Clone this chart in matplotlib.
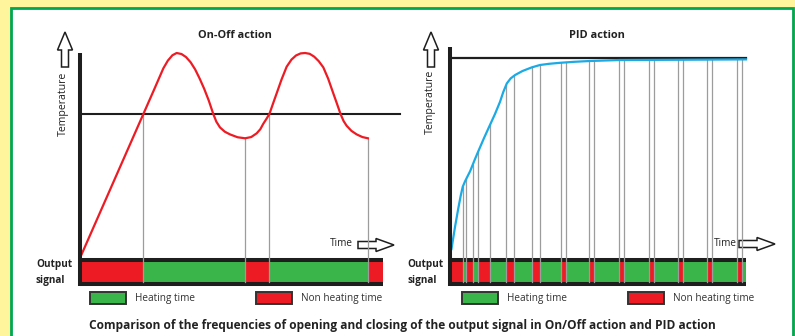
import matplotlib.pyplot as plt
from matplotlib.patches import Rectangle, Polygon
import numpy as np

plt.rcParams['font.family'] = ['Open Sans', 'DejaVu Sans']

W, H = 795, 336

# On-Off action: time 0-100 spans the output bar, temperature 100 = top of overshoot
onoff_time = [0, 20.9, 24.5, 27.5, 29.0, 30.5, 31.9, 33.5, 35.0, 36.5, 38.0, 39.5,
              41.0, 42.5, 44.0, 45.0, 46.2, 47.8, 49.5, 52.0, 54.5, 56.5, 58.3,
              59.5, 60.5, 61.5, 62.5, 63.7, 64.9, 66.5, 68.2, 69.8, 71.3, 72.8,
              74.3, 75.8, 77.3, 78.8, 80.3, 81.9, 83.6, 84.8, 86.0, 87.0, 88.0,
              89.6, 91.3, 93.2, 95.0]
onoff_temp = [0, 70.2, 82.3, 92.5, 96.3, 98.9, 100, 99.5, 98.0, 95.5, 92.0, 87.5,
              82.5, 76.8, 70.2, 66.5, 63.7, 61.6, 60.3, 58.9, 58.4, 59.0, 60.8,
              62.8, 65.5, 67.8, 70.2, 75.3, 80.3, 87.0, 93.3, 96.8, 98.8, 99.8,
              100, 99.6, 98.2, 96.0, 93.0, 87.5, 80.3, 75.3, 70.2, 66.8, 64.5,
              62.0, 60.3, 59.0, 58.4]
onoff_setpoint = 70.2
onoff_off_start = [0, 54.5, 95.0]
onoff_off_end = [20.9, 62.5, 100]

# PID action: temperature 100 = setpoint
pid_time = [0.5, 1.7, 2.8, 3.6, 4.3, 5.1, 6.8, 8.4, 9.4, 11.5, 13.5, 15.2, 16.9,
            18.0, 19.2, 20.5, 22.0, 24.5, 27.6, 30.4, 33.5, 37.2, 42.0, 47.3,
            57.4, 75.3, 100]
pid_temp = [4.5, 15.6, 24.8, 31.0, 35.6, 38.4, 43.4, 49.3, 52.8, 60.0, 66.5, 72.0,
            78.1, 83.0, 87.3, 89.8, 91.5, 93.5, 95.3, 96.5, 97.1, 97.6, 98.1,
            98.5, 99.0, 99.1, 99.3]
pid_setpoint = 100
pid_off_start = [0, 5.4, 9.5, 19.0, 27.7, 37.4, 47.0, 57.1, 67.1, 76.9, 86.7, 96.9]
pid_off_end = [4.3, 7.7, 13.5, 21.7, 30.4, 39.2, 48.6, 58.8, 68.8, 78.6, 88.4, 98.5]

red = '#ED1C24'
green = '#3AB54A'
blue = '#1AAAE5'
grey = '#9C9C9C'
black = '#1E1E1E'

fig = plt.figure(figsize=(W / 100, H / 100), dpi=100)
fig.patch.set_facecolor('#FFF59C')

bg = fig.add_axes([0, 0, 1, 1])
bg.set_xlim(0, W)
bg.set_ylim(H, 0)
bg.axis('off')
bg.add_patch(Rectangle((10.5, 7.5), 782, 340, fc='white', ec='#00A651', lw=2))


def panel(x0, x1, y0, y1):
    ax = fig.add_axes([x0 / W, 1 - y0 / H, (x1 - x0) / W, (y0 - y1) / H])
    ax.set_xlim(0, 100)
    ax.set_ylim(0, 100)
    ax.axis('off')
    return ax, (y0 - y1) / 100.0


def output_bar(ax, ky, off_start, off_end, axis_top):
    top, bot = -4 / ky, -24 / ky
    ax.broken_barh([(0, 100)], (bot, top - bot), fc=green, ec='none', clip_on=False)
    ax.broken_barh([(s, e - s) for s, e in zip(off_start, off_end)], (bot, top - bot),
                   fc=red, ec='none', clip_on=False)
    for yy in (-2 / ky, -26 / ky):
        ax.plot([0, 100], [yy, yy], color=black, lw=2.9, solid_capstyle='butt', clip_on=False)
    ax.plot([0, 0], [-28 / ky, axis_top], color=black, lw=2.9, solid_capstyle='butt',
            clip_on=False, zorder=5)
    return top, bot


def switch_lines(ax, times, curve_t, curve_T, bot):
    for t in times:
        if 0 < t < 100:
            ax.plot([t, t], [bot, np.interp(t, curve_t, curve_T)], color=grey, lw=0.9,
                    clip_on=False, zorder=3)


# left panel
axl, kyl = panel(80, 383, 258, 53)
top, bot = output_bar(axl, kyl, onoff_off_start, onoff_off_end, 100)
switch_lines(axl, onoff_off_start + onoff_off_end, onoff_time, onoff_temp, bot)
axl.plot([0, 105.6], [onoff_setpoint, onoff_setpoint], color=black, lw=1.5, clip_on=False)
axl.plot(onoff_time, onoff_temp, color=red, lw=1.6, clip_on=False, zorder=4,
         solid_joinstyle='round')

# right panel
axr, kyr = panel(450, 746, 258, 58)
top, bot = output_bar(axr, kyr, pid_off_start, pid_off_end, 105.5)
switch_lines(axr, pid_off_start + pid_off_end, pid_time, pid_temp, bot)
axr.plot([0, 100], [pid_setpoint, pid_setpoint], color=black, lw=1.6, clip_on=False)
axr.plot(pid_time, pid_temp, color=blue, lw=1.6, clip_on=False, zorder=4,
         solid_joinstyle='round')


def up_arrow(cx):
    pts = [(cx, 32), (cx + 7.5, 50), (cx + 3.5, 50), (cx + 3.5, 67),
           (cx - 3.5, 67), (cx - 3.5, 50), (cx - 7.5, 50)]
    bg.add_patch(Polygon(pts, closed=True, fc='white', ec=black, lw=1.1, zorder=6))


def right_arrow(x0, cy):
    pts = [(x0, cy - 3.5), (x0 + 18, cy - 3.5), (x0 + 18, cy - 6.5), (x0 + 36, cy),
           (x0 + 18, cy + 6.5), (x0 + 18, cy + 3.5), (x0, cy + 3.5)]
    bg.add_patch(Polygon(pts, closed=True, fc='white', ec=black, lw=1.1, zorder=6))


up_arrow(65)
up_arrow(431)
right_arrow(358, 245)
right_arrow(739, 244)

bg.text(235, 36, 'On-Off action', ha='center', va='center', fontsize=7.9,
        fontweight='bold', color='#222222')
bg.text(597, 36, 'PID action', ha='center', va='center', fontsize=7.9,
        fontweight='bold', color='#222222')
bg.text(63, 104, 'Temperature', rotation=90, ha='center', va='center', fontsize=7.6,
        color='#222222')
bg.text(430, 102, 'Temperature', rotation=90, ha='center', va='center', fontsize=7.6,
        color='#222222')
bg.text(341, 244, 'Time', ha='center', va='center', fontsize=7.2, color='#222222')
t = fig.axes[0].text(725.5, 244, 'Time', ha='center', va='center', fontsize=7.2,
                     color='#222222', zorder=7)
t.set_bbox(dict(fc='white', ec='none', pad=0.3))

for x in (36, 407):
    bg.text(x, 265, 'Output', ha='left', va='center', fontsize=7.2, fontweight='bold',
            color='#222222')
    bg.text(x, 280, 'signal', ha='left', va='center', fontsize=7.2, fontweight='bold',
            color='#222222')

legend_boxes = [(90, green, 'Heating time'), (256, red, 'Non heating time'),
                (462, green, 'Heating time'), (628, red, 'Non heating time')]
for x, c, label in legend_boxes:
    bg.add_patch(Rectangle((x, 291.5), 36, 12.5, fc=c, ec='#333333', lw=1.4))
    bg.text(x + 45, 298, label, ha='left', va='center', fontsize=7.2, color='#333333')

bg.text(402, 325, 'Comparison of the frequencies of opening and closing of the output '
        'signal in On/Off action and PID action', ha='center', va='center',
        fontsize=8.6, fontweight='bold', color='#222222')

fig.savefig('out.png', dpi=100, facecolor=fig.get_facecolor())
